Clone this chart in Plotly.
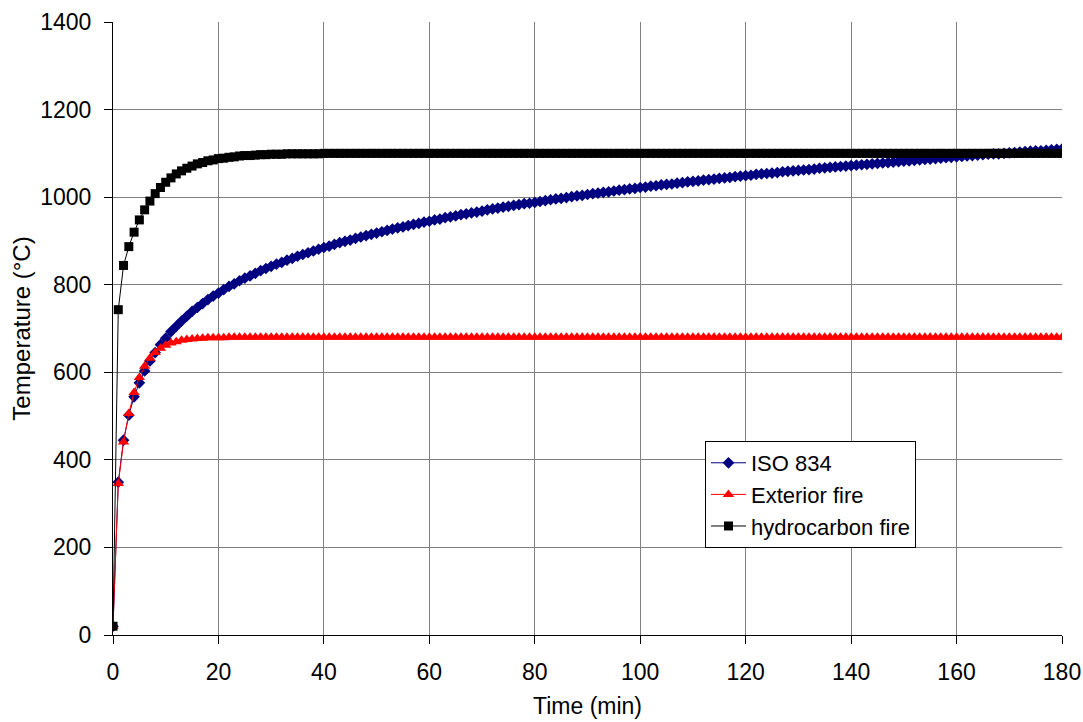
import plotly.graph_objects as go

time_min = list(range(0, 181))

iso_834 = [
    20, 349, 445, 502, 544, 576, 603, 626, 645, 663,
    678, 693, 705, 717, 728, 739, 748, 757, 766, 774,
    781, 789, 796, 802, 809, 815, 820, 826, 832, 837,
    842, 847, 851, 856, 860, 865, 869, 873, 877, 881,
    885, 888, 892, 896, 899, 902, 906, 909, 912, 915,
    918, 921, 924, 927, 930, 932, 935, 938, 940, 943,
    945, 948, 950, 953, 955, 957, 960, 962, 964, 966,
    968, 971, 973, 975, 977, 979, 981, 983, 985, 986,
    988, 990, 992, 994, 996, 997, 999, 1001, 1003, 1004,
    1006, 1008, 1009, 1011, 1012, 1014, 1016, 1017, 1019, 1020,
    1022, 1023, 1025, 1026, 1028, 1029, 1030, 1032, 1033, 1035,
    1036, 1037, 1039, 1040, 1041, 1043, 1044, 1045, 1047, 1048,
    1049, 1050, 1052, 1053, 1054, 1055, 1056, 1058, 1059, 1060,
    1061, 1062, 1063, 1064, 1066, 1067, 1068, 1069, 1070, 1071,
    1072, 1073, 1074, 1075, 1076, 1077, 1078, 1079, 1080, 1081,
    1082, 1083, 1084, 1085, 1086, 1087, 1088, 1089, 1090, 1091,
    1092, 1093, 1094, 1095, 1096, 1097, 1098, 1099, 1099, 1100,
    1101, 1102, 1103, 1104, 1105, 1106, 1106, 1107, 1108, 1109,
    1110,
]

exterior_fire = [
    20, 346, 441, 506, 554, 588, 614, 632, 645, 655,
    662, 667, 670, 673, 675, 676, 677, 678, 679, 679,
    679, 679, 680, 680, 680, 680, 680, 680, 680, 680,
    680, 680, 680, 680, 680, 680, 680, 680, 680, 680,
    680, 680, 680, 680, 680, 680, 680, 680, 680, 680,
    680, 680, 680, 680, 680, 680, 680, 680, 680, 680,
    680, 680, 680, 680, 680, 680, 680, 680, 680, 680,
    680, 680, 680, 680, 680, 680, 680, 680, 680, 680,
    680, 680, 680, 680, 680, 680, 680, 680, 680, 680,
    680, 680, 680, 680, 680, 680, 680, 680, 680, 680,
    680, 680, 680, 680, 680, 680, 680, 680, 680, 680,
    680, 680, 680, 680, 680, 680, 680, 680, 680, 680,
    680, 680, 680, 680, 680, 680, 680, 680, 680, 680,
    680, 680, 680, 680, 680, 680, 680, 680, 680, 680,
    680, 680, 680, 680, 680, 680, 680, 680, 680, 680,
    680, 680, 680, 680, 680, 680, 680, 680, 680, 680,
    680, 680, 680, 680, 680, 680, 680, 680, 680, 680,
    680, 680, 680, 680, 680, 680, 680, 680, 680, 680,
    680,
]

hydrocarbon_fire = [
    20, 743, 844, 887, 920, 948, 971, 991, 1008, 1022,
    1034, 1044, 1053, 1060, 1066, 1071, 1076, 1079, 1083, 1085,
    1088, 1089, 1091, 1092, 1094, 1095, 1095, 1096, 1097, 1097,
    1098, 1098, 1098, 1099, 1099, 1099, 1099, 1099, 1099, 1099,
    1100, 1100, 1100, 1100, 1100, 1100, 1100, 1100, 1100, 1100,
    1100, 1100, 1100, 1100, 1100, 1100, 1100, 1100, 1100, 1100,
    1100, 1100, 1100, 1100, 1100, 1100, 1100, 1100, 1100, 1100,
    1100, 1100, 1100, 1100, 1100, 1100, 1100, 1100, 1100, 1100,
    1100, 1100, 1100, 1100, 1100, 1100, 1100, 1100, 1100, 1100,
    1100, 1100, 1100, 1100, 1100, 1100, 1100, 1100, 1100, 1100,
    1100, 1100, 1100, 1100, 1100, 1100, 1100, 1100, 1100, 1100,
    1100, 1100, 1100, 1100, 1100, 1100, 1100, 1100, 1100, 1100,
    1100, 1100, 1100, 1100, 1100, 1100, 1100, 1100, 1100, 1100,
    1100, 1100, 1100, 1100, 1100, 1100, 1100, 1100, 1100, 1100,
    1100, 1100, 1100, 1100, 1100, 1100, 1100, 1100, 1100, 1100,
    1100, 1100, 1100, 1100, 1100, 1100, 1100, 1100, 1100, 1100,
    1100, 1100, 1100, 1100, 1100, 1100, 1100, 1100, 1100, 1100,
    1100, 1100, 1100, 1100, 1100, 1100, 1100, 1100, 1100, 1100,
    1100,
]

series_names = ["ISO 834", "Exterior fire", "hydrocarbon fire"]

FONT = "Liberation Sans, Arial, sans-serif"
FS = 23

fig = go.Figure()
fig.add_trace(go.Scatter(
    x=time_min, y=iso_834, name=series_names[0], mode="lines+markers",
    line=dict(color="#000080", width=1),
    marker=dict(symbol="diamond", size=9, color="#000080"),
))
fig.add_trace(go.Scatter(
    x=time_min, y=exterior_fire, name=series_names[1], mode="lines+markers",
    line=dict(color="#FF0000", width=1),
    marker=dict(symbol="triangle-up", size=10, color="#FF0000"),
))
fig.add_trace(go.Scatter(
    x=time_min, y=hydrocarbon_fire, name=series_names[2], mode="lines+markers",
    line=dict(color="#000000", width=1),
    marker=dict(symbol="square", size=9, color="#000000"),
))

fig.update_layout(
    width=1083, height=722,
    margin=dict(l=113, r=21, t=22, b=87),
    paper_bgcolor="white", plot_bgcolor="white",
    font=dict(family=FONT, size=FS, color="black"),
    showlegend=True,
    legend=dict(
        x=0.6238, y=0.3165, xanchor="left", yanchor="top",
        bgcolor="white", bordercolor="black", borderwidth=1,
        font=dict(family=FONT, size=22, color="black"),
        tracegroupgap=0, itemwidth=35,
    ),
    xaxis=dict(
        range=[0, 180], tick0=0, dtick=20,
        showgrid=True, gridcolor="#808080", gridwidth=1,
        showline=True, linecolor="black", linewidth=1,
        ticks="outside", ticklen=8, tickcolor="black",
        ticklabelstandoff=8,
        zeroline=False, automargin=False,
        title=dict(text="Time (min)", font=dict(family=FONT, size=FS), standoff=14),
    ),
    yaxis=dict(
        range=[0, 1400], tick0=0, dtick=200,
        showgrid=True, gridcolor="#808080", gridwidth=1,
        showline=True, linecolor="black", linewidth=1,
        ticks="outside", ticklen=8, tickcolor="black",
        ticklabelstandoff=8,
        zeroline=False, automargin=False,
        title=dict(text="Temperature (°C)", font=dict(family=FONT, size=24), standoff=2),
    ),
)

fig.write_html(
    "out.html",
    config={"displayModeBar": False},
    post_script="document.body.style.margin='0';document.body.style.overflow='hidden';",
)
